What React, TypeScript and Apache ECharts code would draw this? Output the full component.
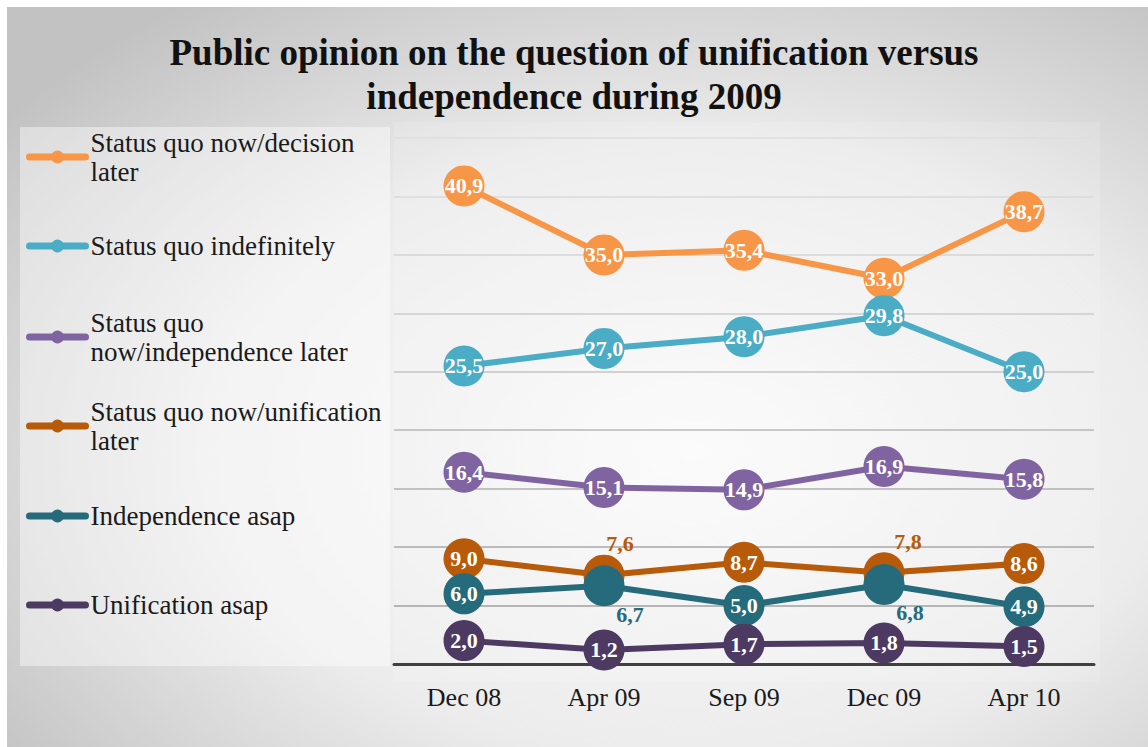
import React, { useEffect, useRef } from "react";
import * as echarts from "echarts";

const categories = ["Dec 08", "Apr 09", "Sep 09", "Dec 09", "Apr 10"];
const seriesNames = [
  "Status quo now/decision later",
  "Status quo indefinitely",
  "Status quo now/independence later",
  "Status quo now/unification later",
  "Independence asap",
  "Unification asap",
];
const legendLabels = [
  "Status quo now/decision\nlater",
  "Status quo indefinitely",
  "Status quo\nnow/independence later",
  "Status quo now/unification\nlater",
  "Independence asap",
  "Unification asap",
];
const decisionLater = [40.9, 35.0, 35.4, 33.0, 38.7];
const indefinitely = [25.5, 27.0, 28.0, 29.8, 25.0];
const independenceLater = [16.4, 15.1, 14.9, 16.9, 15.8];
const unificationLater = [9.0, 7.6, 8.7, 7.8, 8.6];
const independenceAsap = [6.0, 6.7, 5.0, 6.8, 4.9];
const unificationAsap = [2.0, 1.2, 1.7, 1.8, 1.5];
const allValues = [
  decisionLater,
  indefinitely,
  independenceLater,
  unificationLater,
  independenceAsap,
  unificationAsap,
];
const colors = ["#F79646", "#4BACC6", "#8064A2", "#B75A0A", "#266B7B", "#4D3A63"];
// points whose label sits outside the marker: [seriesIdx, pointIdx, dx, dy]
const outsideLabels: [number, number, number, number][] = [
  [3, 1, 16, -32],
  [3, 3, 24, -31],
  [4, 1, 26, 29],
  [4, 3, 26, 28],
];
const legendCenters = [157, 246, 337, 426, 516, 605];

const fmt = (v: number) => v.toFixed(1).replace(".", ",");

export default function App() {
  const ref = useRef<HTMLDivElement>(null);
  useEffect(() => {
    if (!ref.current) return;
    const chart = echarts.init(ref.current, null, { renderer: "svg" });
    const LH = 29;
    const legends = seriesNames.map((name, i) => {
      const twoLine = legendLabels[i].includes("\n");
      const top = twoLine ? legendCenters[i] - 1.5 * LH : legendCenters[i] - LH / 2;
      return {
        show: true,
        orient: "vertical",
        left: 26,
        top,
        padding: 0,
        itemWidth: 56,
        itemHeight: 16,
        itemGap: 0,
        data: [name],
        formatter: () => legendLabels[i],
        lineStyle: { width: 7, cap: "round" },
        textStyle: {
          fontFamily: "Liberation Serif",
          fontSize: 27,
          color: "#1a1a1a",
          lineHeight: LH,
          padding: twoLine ? [LH, 0, 0, 0] : 0,
        },
      };
    });
    const series = allValues.map((vals, si) => ({
      name: seriesNames[si],
      type: "line",
      data: vals.map((v, pi) => {
        const o = outsideLabels.find((x) => x[0] === si && x[1] === pi);
        if (!o) return v;
        return {
          value: v,
          label: {
            position: "inside",
            offset: [o[2], o[3]],
            color: colors[si],
            fontSize: 22,
          },
        };
      }),
      symbol: "circle",
      symbolSize: 41,
      lineStyle: { width: 6, color: colors[si] },
      itemStyle: { color: colors[si] },
      label: {
        show: true,
        position: "inside",
        formatter: (p: any) => fmt(p.value),
        color: "#ffffff",
        fontFamily: "Liberation Serif",
        fontWeight: "bold",
        fontSize: 22,
      },
      emphasis: { disabled: true },
    }));
    const gridColors = [
      "#a0a0a0",
      "#a0a0a0",
      "#a8a8a8",
      "#b0b0b0",
      "#b8b8b8",
      "#c4c4c4",
      "#cccccc",
      "#d4d4d4",
      "#dadada",
      "#dedede",
    ];
    chart.setOption({
      animation: false,
      backgroundColor: "#ffffff",
      color: colors,
      graphic: [
        {
          type: "rect",
          z: -100,
          shape: { x: 7, y: 7, width: 1141, height: 740 },
          style: {
            fill: new echarts.graphic.RadialGradient(0.6, 0.6, 0.75, [
              { offset: 0, color: "#fbfbfb" },
              { offset: 0.55, color: "#ececec" },
              { offset: 1, color: "#c2c2c2" },
            ]),
          },
          silent: true,
        },
        {
          type: "rect",
          z: -99,
          shape: { x: 20, y: 127, width: 370, height: 539 },
          style: { fill: "rgba(255,255,255,0.42)" },
          silent: true,
        },
        {
          type: "rect",
          z: -99,
          shape: { x: 394, y: 122, width: 706, height: 560 },
          style: { fill: "rgba(255,255,255,0.14)" },
          silent: true,
        },
      ],
      title: {
        text: "Public opinion on the question of unification versus\nindependence during 2009",
        left: "center",
        top: 30,
        padding: 0,
        textStyle: {
          fontFamily: "Liberation Serif",
          fontWeight: "bold",
          fontSize: 37,
          lineHeight: 44,
          color: "#111111",
        },
      },
      legend: legends,
      grid: { left: 394, right: 54, top: 138, bottom: 83 },
      xAxis: {
        type: "category",
        data: categories,
        boundaryGap: true,
        axisTick: { show: false },
        axisLine: { lineStyle: { color: "#404040", width: 3 } },
        axisLabel: {
          margin: 20,
          fontFamily: "Liberation Serif",
          fontSize: 26,
          color: "#1a1a1a",
        },
      },
      yAxis: {
        type: "value",
        min: 0,
        max: 45,
        interval: 5,
        axisLabel: { show: false },
        axisLine: { show: false },
        axisTick: { show: false },
        splitLine: { lineStyle: { color: gridColors, width: 1.5 } },
      },
      series,
    });
    return () => chart.dispose();
  }, []);
  return (
    <div
      ref={ref}
      style={{ position: "fixed", left: 0, top: 0, width: 1148, height: 747 }}
    />
  );
}
